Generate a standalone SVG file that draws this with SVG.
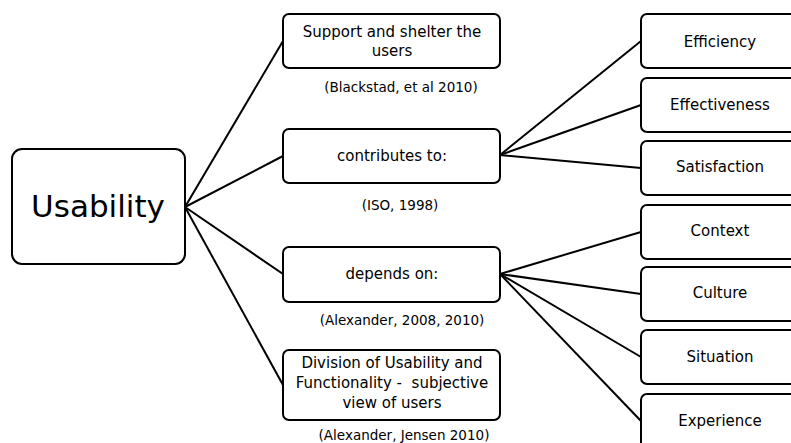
<svg xmlns="http://www.w3.org/2000/svg" width="791" height="443" viewBox="0 0 791 443">
<style>
.box{fill:#fff;stroke:#000;stroke-width:2}
.t{font-family:"DejaVu Sans",sans-serif;font-size:15px;fill:#000;text-anchor:middle}
.c{font-family:"DejaVu Sans",sans-serif;font-size:13.5px;fill:#000;text-anchor:middle}
.big{font-family:"DejaVu Sans",sans-serif;font-size:31px;fill:#000;text-anchor:middle}
.ln{stroke:#000;stroke-width:2;fill:none}
</style>
<rect width="791" height="443" fill="#fff"/>
<g id="connectors">
<line class="ln" x1="185" y1="207" x2="283" y2="41"/>
<line class="ln" x1="185" y1="207" x2="283" y2="156"/>
<line class="ln" x1="185" y1="207" x2="283" y2="274"/>
<line class="ln" x1="185" y1="207" x2="283" y2="385"/>
<line class="ln" x1="500" y1="155" x2="641" y2="41"/>
<line class="ln" x1="500" y1="155" x2="641" y2="105"/>
<line class="ln" x1="500" y1="155" x2="641" y2="168"/>
<line class="ln" x1="500" y1="274" x2="641" y2="232"/>
<line class="ln" x1="500" y1="274" x2="641" y2="294"/>
<line class="ln" x1="500" y1="274" x2="641" y2="357"/>
<line class="ln" x1="500" y1="274" x2="641" y2="421"/>
</g>
<g id="usability"><rect class="box" x="12" y="149" width="173" height="115" rx="10"/><text class="big" x="98" y="217">Usability</text></g>
<g id="support"><rect class="box" x="283" y="14" width="217" height="54" rx="6"/><text class="t" x="392" y="37">Support and shelter the</text><text class="t" x="392" y="56">users</text><text class="c" x="401" y="92">(Blackstad, et al 2010)</text></g>
<g id="contributes"><rect class="box" x="283" y="129" width="217" height="54" rx="6"/><text class="t" x="392" y="161">contributes to:</text><text class="c" x="400" y="210">(ISO, 1998)</text></g>
<g id="depends"><rect class="box" x="283" y="247" width="217" height="55" rx="6"/><text class="t" x="392" y="279">depends on:</text><text class="c" x="402" y="325">(Alexander, 2008, 2010)</text></g>
<g id="division"><rect class="box" x="283" y="350" width="217" height="70" rx="6"/><text class="t" x="392" y="368">Division of Usability and</text><text class="t" x="392" y="388" xml:space="preserve">Functionality -  subjective</text><text class="t" x="392" y="408">view of users</text><text class="c" x="404" y="440">(Alexander, Jensen 2010)</text></g>
<g id="efficiency"><rect class="box" x="641" y="14" width="160" height="54" rx="6"/><text class="t" x="720" y="47">Efficiency</text></g>
<g id="effectiveness"><rect class="box" x="641" y="78" width="160" height="54" rx="6"/><text class="t" x="720" y="110">Effectiveness</text></g>
<g id="satisfaction"><rect class="box" x="641" y="141" width="160" height="54" rx="6"/><text class="t" x="720" y="172">Satisfaction</text></g>
<g id="context"><rect class="box" x="641" y="205" width="160" height="54" rx="6"/><text class="t" x="720" y="236">Context</text></g>
<g id="culture"><rect class="box" x="641" y="267" width="160" height="54" rx="6"/><text class="t" x="720" y="298">Culture</text></g>
<g id="situation"><rect class="box" x="641" y="330" width="160" height="54" rx="6"/><text class="t" x="720" y="362">Situation</text></g>
<g id="experience"><rect class="box" x="641" y="394" width="160" height="54" rx="6"/><text class="t" x="720" y="426">Experience</text></g>
</svg>
